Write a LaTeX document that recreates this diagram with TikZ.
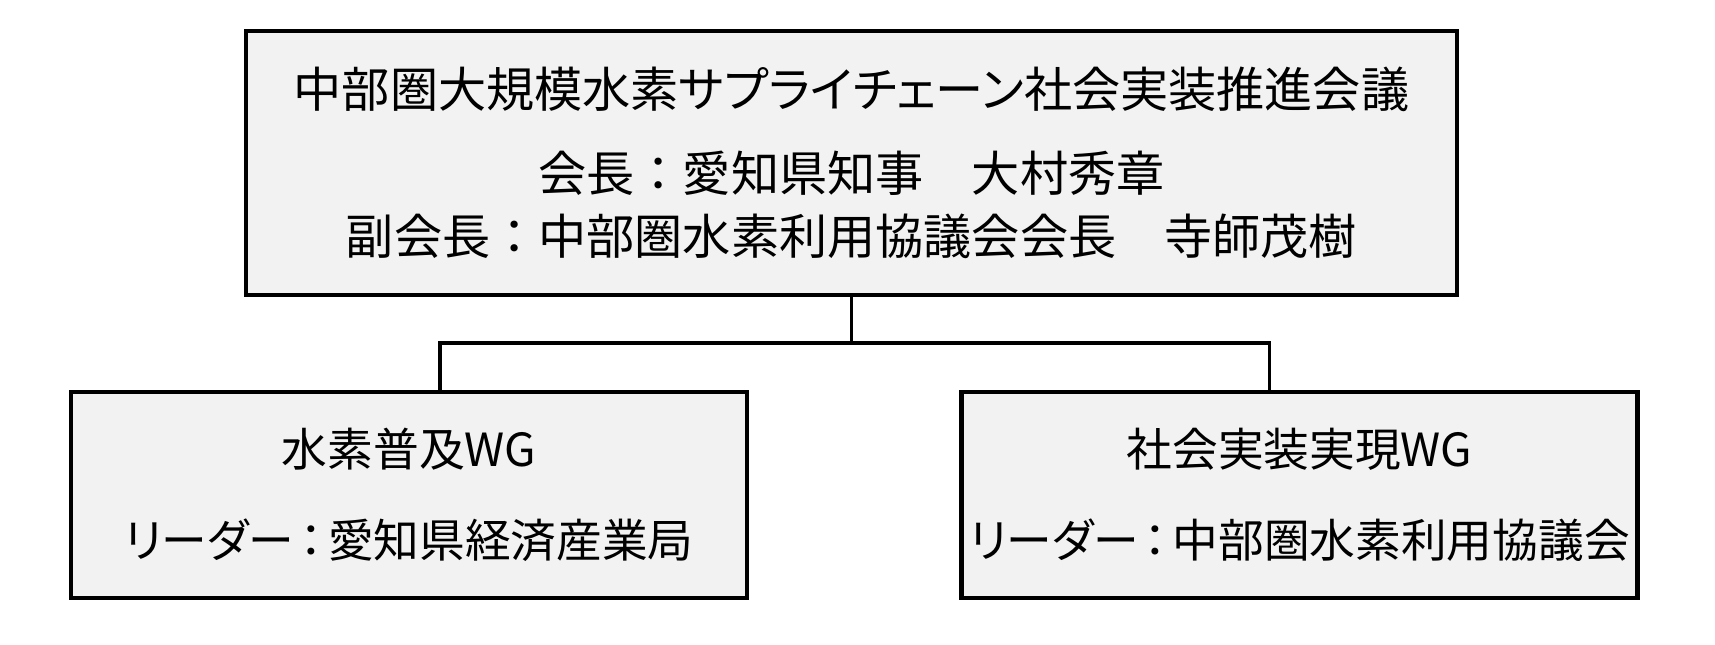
\documentclass[tikz,border=0pt]{standalone}
\usepackage{fontspec}
\setmainfont{Noto Sans CJK JP}[RawFeature=+palt]
\newfontfamily\jpfull{Noto Sans CJK JP}
\newcommand\fwcolon{{\jpfull ：}}
\newcommand\wgcolon{\makebox[0.75em]{\jpfull ：}}
\usetikzlibrary{positioning}
\definecolor{boxgray}{RGB}{242,242,242}
\tikzset{
  org box/.style={
    rectangle, draw=black, line width=1.2pt, fill=boxgray,
    align=center, inner sep=0pt,
    font=\fontsize{13.7}{17.9}\selectfont
  },
  wg box/.style={org box, minimum width=6.76cm, minimum height=2.06cm,
    font=\fontsize{13}{17.9}\selectfont},
  org line/.style={line width=1pt, black}
}

\begin{document}
\begin{tikzpicture}
  \useasboundingbox (0,0) rectangle (17.15,6.45);
  \node[org box, minimum width=12.11cm, minimum height=2.64cm] (council) at (8.515,4.82)
    {中部圏大規模水素サプライチェーン社会実装推進会議\\[0.21cm]
     会長\fwcolon 愛知県知事{\jpfull 　}大村秀章\\
     副会長\fwcolon 中部圏水素利用協議会会長{\jpfull 　}寺師茂樹};
  \node[wg box, below=0.93cm of council, xshift=-4.425cm] (spread)
    {水素普及WG\\[0.28cm] リーダー\wgcolon 愛知県経済産業局};
  \node[wg box, below=0.93cm of council, xshift=4.48cm] (deploy)
    {社会実装実現WG\\[0.28cm] リーダー\wgcolon 中部圏水素利用協議会};
  \coordinate (split) at ([yshift=-0.46cm]council.south);
  \draw[org line] (council.south) -- (split);
  \draw[org line] ([xshift=0.31cm]spread.north) |- (split) -| ([xshift=-0.30cm]deploy.north);
\end{tikzpicture}
\end{document}
